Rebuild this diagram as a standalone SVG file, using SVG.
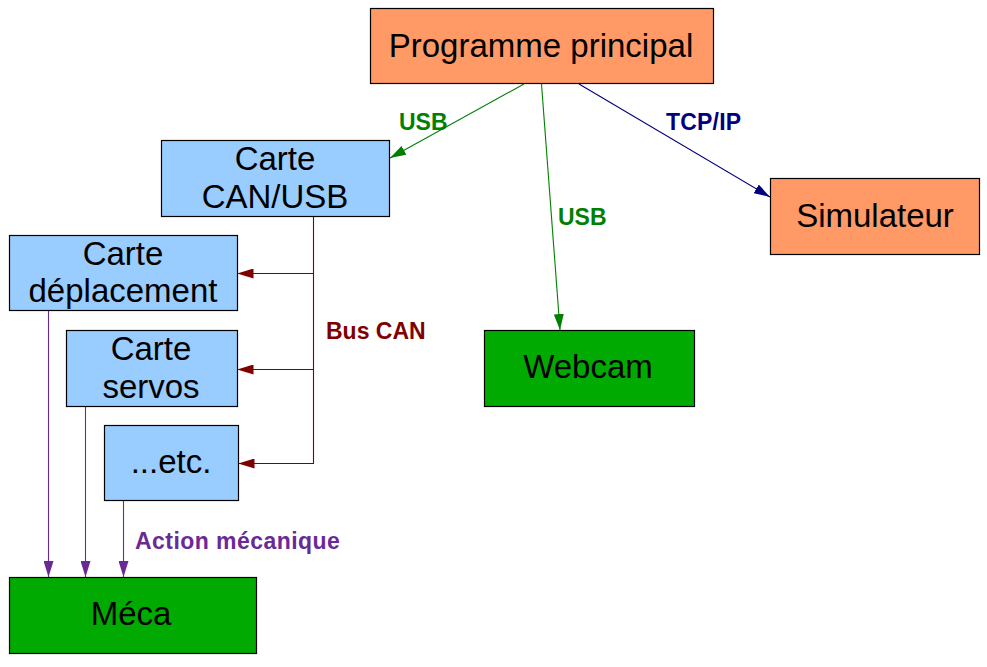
<svg xmlns="http://www.w3.org/2000/svg" width="987" height="667" viewBox="0 0 987 667">
<style>
.box{stroke:#000;stroke-width:1.2}
.orange{fill:#ff9966}
.blue{fill:#99ccff}
.green{fill:#00aa00}
.t{font-family:"Liberation Sans",Arial,sans-serif;font-size:33px;fill:#000;text-anchor:middle}
.lbl{font-family:"Liberation Sans",Arial,sans-serif;font-size:23px;font-weight:bold}
.c{fill:none;stroke-width:1.1}
</style>
<defs>
<marker id="aG" markerUnits="userSpaceOnUse" markerWidth="16" markerHeight="10" refX="16" refY="5" orient="auto"><path d="M0,0 L16,5 L0,10 z" fill="#008000"/></marker>
<marker id="aN" markerUnits="userSpaceOnUse" markerWidth="16" markerHeight="10" refX="16" refY="5" orient="auto"><path d="M0,0 L16,5 L0,10 z" fill="#000080"/></marker>
<marker id="aR" markerUnits="userSpaceOnUse" markerWidth="16" markerHeight="10" refX="16" refY="5" orient="auto"><path d="M0,0 L16,5 L0,10 z" fill="#800000"/></marker>
<marker id="aP" markerUnits="userSpaceOnUse" markerWidth="16" markerHeight="10" refX="16" refY="5" orient="auto"><path d="M0,0 L16,5 L0,10 z" fill="#6a2a96"/></marker>
</defs>
<rect width="987" height="667" fill="#fff"/>
<g id="connectors">
<path class="c" d="M524,84 L390,158" stroke="#008000" marker-end="url(#aG)"/>
<path class="c" d="M541.5,84 L560,330" stroke="#008000" marker-end="url(#aG)"/>
<path class="c" d="M579,84 L770,197" stroke="#000080" marker-end="url(#aN)"/>
<path class="c" d="M313.5,216.5 V463.5 H238.5" stroke="#800000" marker-end="url(#aR)"/>
<path class="c" d="M313.5,273.5 H237.5" stroke="#800000" marker-end="url(#aR)"/>
<path class="c" d="M313.5,369.5 H237.5" stroke="#800000" marker-end="url(#aR)"/>
<path class="c" d="M48.5,310.5 V577" stroke="#6a2a96" marker-end="url(#aP)"/>
<path class="c" d="M85.5,406.5 V577" stroke="#6a2a96" marker-end="url(#aP)"/>
<path class="c" d="M123.5,500.5 V577" stroke="#6a2a96" marker-end="url(#aP)"/>
<text class="lbl" x="399" y="130" fill="#008000">USB</text>
<text class="lbl" x="558" y="225" fill="#008000">USB</text>
<text class="lbl" x="666" y="130" fill="#000080" letter-spacing="0.2">TCP/IP</text>
<text class="lbl" x="326" y="339" fill="#800000">Bus CAN</text>
<text class="lbl" x="135" y="549" fill="#6a2a96" letter-spacing="0.45">Action mécanique</text>
</g>
<g id="programme">
<rect class="box orange" x="370.5" y="8.5" width="343" height="75"/>
<text class="t" x="541" y="57">Programme principal</text>
</g>
<g id="simulateur">
<rect class="box orange" x="770.5" y="178.5" width="209" height="76"/>
<text class="t" x="875" y="227">Simulateur</text>
</g>
<g id="webcam">
<rect class="box green" x="484.5" y="330.5" width="210" height="76"/>
<text class="t" x="588" y="378">Webcam</text>
</g>
<g id="canusb">
<rect class="box blue" x="161.5" y="140.5" width="228" height="76"/>
<text class="t" x="275" y="170">Carte</text>
<text class="t" x="275" y="207.5">CAN/USB</text>
</g>
<g id="deplacement">
<rect class="box blue" x="9.5" y="235.5" width="228" height="75"/>
<text class="t" x="123" y="264.5">Carte</text>
<text class="t" x="123" y="301.5">déplacement</text>
</g>
<g id="servos">
<rect class="box blue" x="66.5" y="330.5" width="171" height="76"/>
<text class="t" x="151" y="360">Carte</text>
<text class="t" x="151" y="397.5">servos</text>
</g>
<g id="etc">
<rect class="box blue" x="104.5" y="425.5" width="134" height="75"/>
<text class="t" x="171" y="473">...etc.</text>
</g>
<g id="meca">
<rect class="box green" x="9.5" y="577.5" width="247" height="76"/>
<text class="t" x="131" y="625">Méca</text>
</g>
</svg>
